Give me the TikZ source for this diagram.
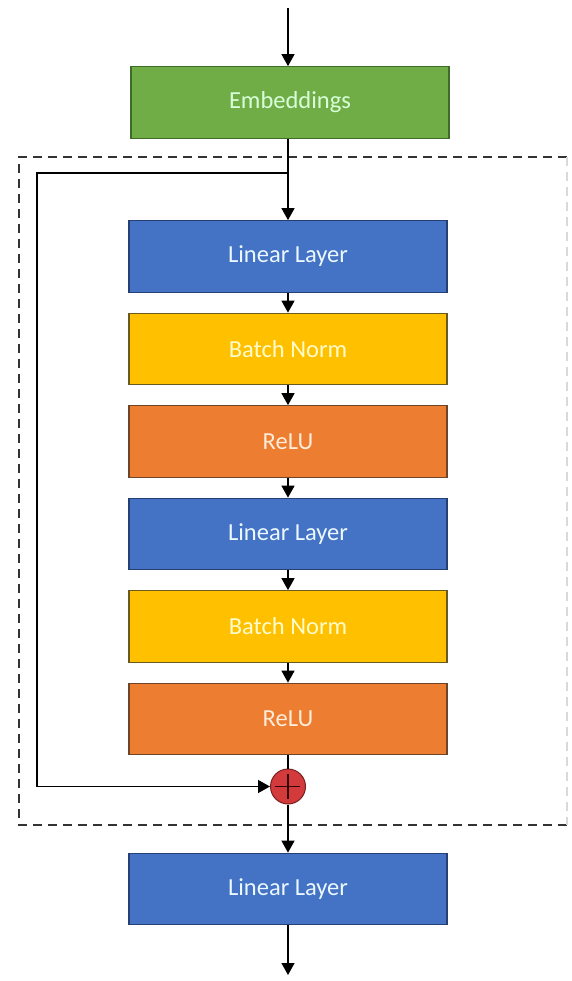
\documentclass[tikz,border=0pt]{standalone}
\usepackage{fontspec}
\setmainfont{Carlito}
\usetikzlibrary{arrows.meta}
\definecolor{embgreen}{HTML}{70AD47}
\definecolor{embgreenb}{HTML}{3F6B28}
\definecolor{linblue}{HTML}{4472C4}
\definecolor{linblueb}{HTML}{263F73}
\definecolor{bnyellow}{HTML}{FFC000}
\definecolor{bnyellowb}{HTML}{6B5A20}
\definecolor{reluorange}{HTML}{ED7D31}
\definecolor{reluorangeb}{HTML}{6E4528}
\definecolor{sumred}{HTML}{D23A3C}
\definecolor{sumredb}{HTML}{7A2020}
\tikzset{
  layer/.style={draw, line width=1.2pt, minimum width=318pt, minimum height=71.5pt,
    inner sep=0pt, text=white, font=\fontsize{24.5}{26}\selectfont},
  emb/.style={layer, fill=embgreen, draw=embgreenb, text=white!85!green},
  lin/.style={layer, fill=linblue, draw=linblueb, text=white!92!cyan},
  bn/.style={layer, fill=bnyellow, draw=bnyellowb, text=white!80!yellow},
  relu/.style={layer, fill=reluorange, draw=reluorangeb, text=white!85!orange},
  conn/.style={line width=1.3pt, -{Triangle[width=13pt,length=12pt]}},
  plain/.style={line width=1.3pt},
  frame/.style={dashed, line width=1.3pt, dash pattern=on 9pt off 6pt, draw=black!80}
}
\begin{document}
\begin{tikzpicture}[x=1pt,y=-1pt]
\useasboundingbox (0,0) rectangle (572,981);
\draw[frame] (567,157) -- (19,157) -- (19,825) -- (567,825);
\draw[frame, draw=black!15] (567,157) -- (567,825);

\coordinate (in) at (288,8);
\node[emb] (emb) at (290,102.5) {Embeddings};
\node[lin] (l1) at (288,256.5) {Linear Layer};
\node[bn] (b1) at (288,349) {Batch Norm};
\node[relu] (r1) at (288,441.5) {ReLU};
\node[lin] (l2) at (288,534) {Linear Layer};
\node[bn] (b2) at (288,626.5) {Batch Norm};
\node[relu] (r2) at (288,719) {ReLU};
\node[circle, draw=sumredb, fill=sumred, line width=1pt, minimum size=35pt, inner sep=0pt] (sum) at (288,786.5) {};
\draw[line width=1.1pt, draw=black!80!red] (sum.north) ++(0,5) -- ++(0,25);
\draw[line width=1.1pt, draw=black!80!red] (sum.west) ++(5,0) -- ++(25,0);
\node[lin] (l3) at (288,889) {Linear Layer};
\coordinate (out) at (288,975);
\coordinate (split) at (288,173);
\coordinate (skipa) at (37,173);
\coordinate (skipb) at (37,786.5);

\draw[conn] (in) -- (emb.north -| in);
\draw[plain] (emb.south -| split) -- (split);
\draw[conn] (split) -- (l1.north);
\draw[conn] (l1) -- (b1);
\draw[conn] (b1) -- (r1);
\draw[conn] (r1) -- (l2);
\draw[conn] (l2) -- (b2);
\draw[conn] (b2) -- (r2);
\draw[plain] (r2.south) -- (sum.north);
\draw[conn] (sum.south) -- (l3.north);
\draw[conn] (l3.south) -- (out);
\draw[conn] (split) -- (skipa) -- (skipb) -- (sum.west);
\end{tikzpicture}
\end{document}
